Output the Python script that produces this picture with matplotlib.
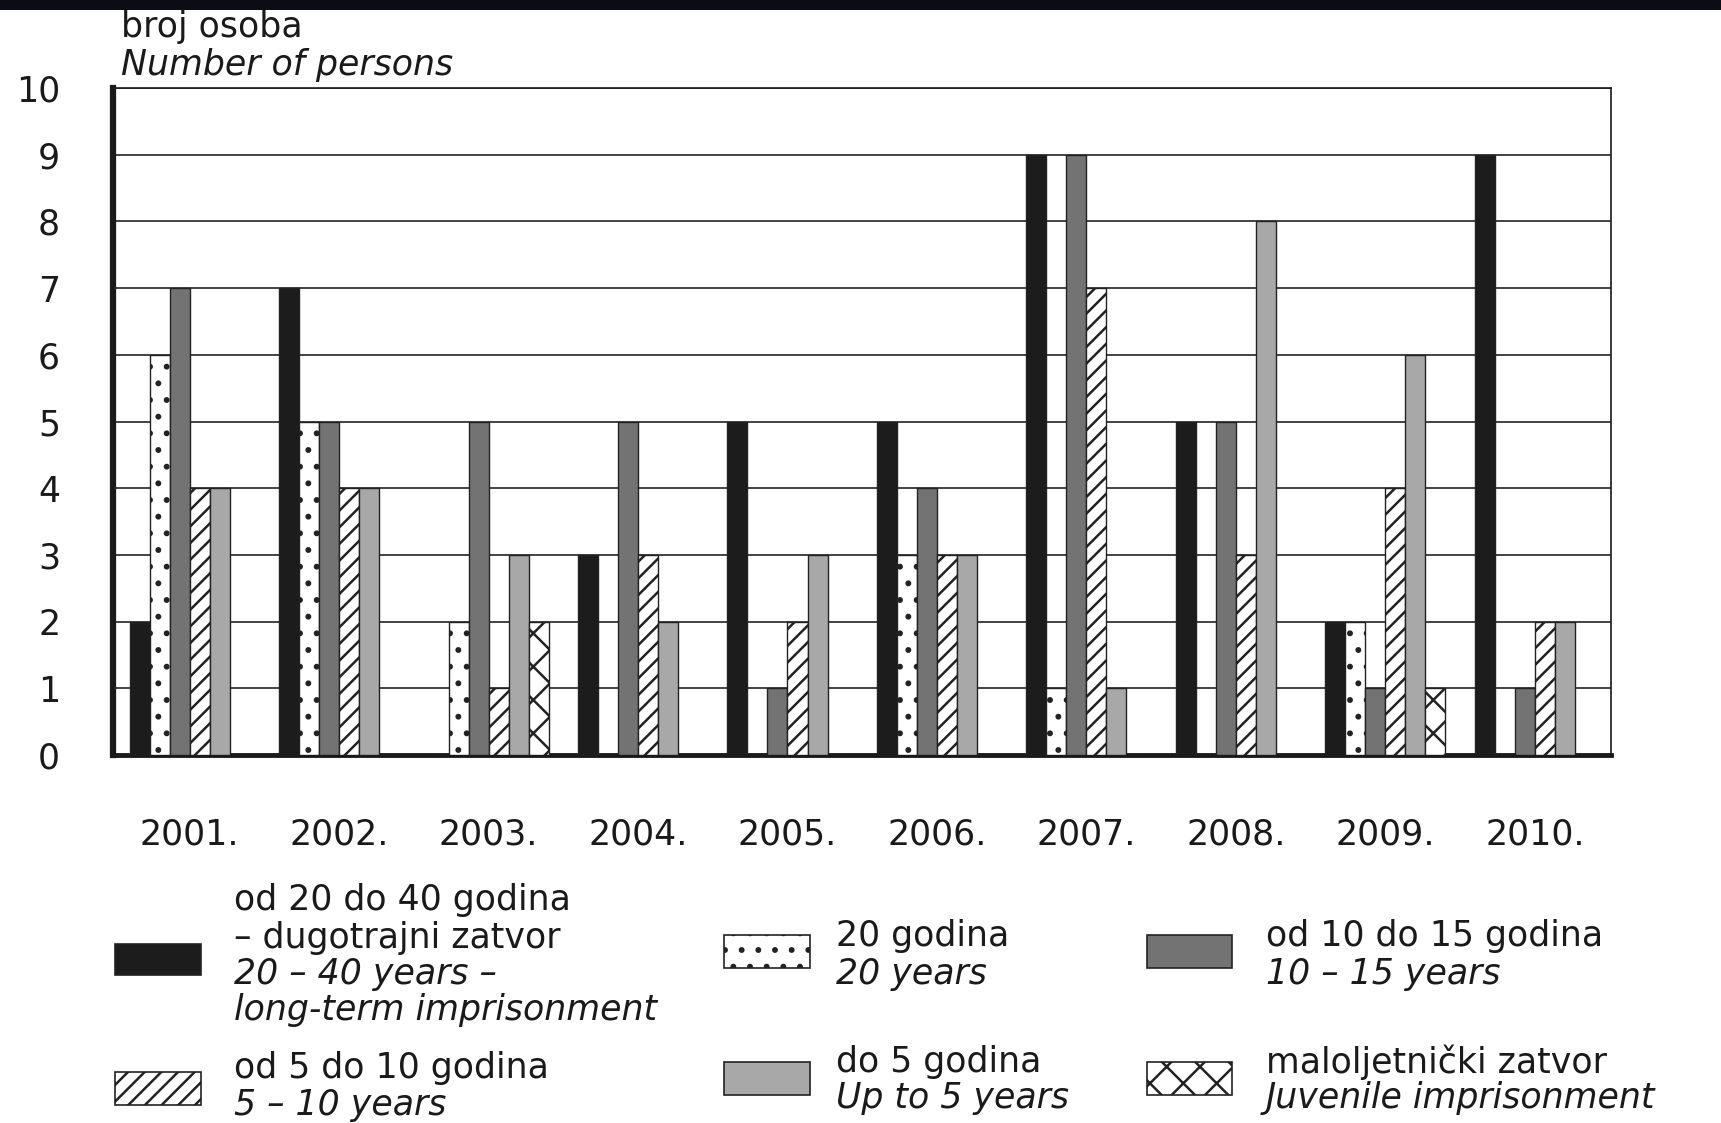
import matplotlib
matplotlib.use('Agg')
import matplotlib.pyplot as plt
from matplotlib.patches import Rectangle

plt.rcParams['font.family'] = ['DejaVu Sans']
plt.rcParams['hatch.linewidth'] = 1.8

# ---- data ----
years = ['2001.', '2002.', '2003.', '2004.', '2005.', '2006.', '2007.', '2008.', '2009.', '2010.']
long_term = [2, 7, 0, 3, 5, 5, 9, 5, 2, 9]      # 20-40 years
years_20 = [6, 5, 2, 0, 0, 3, 1, 0, 2, 0]        # 20 years
years_10_15 = [7, 5, 5, 5, 1, 4, 9, 5, 1, 1]     # 10-15 years
years_5_10 = [4, 4, 1, 3, 2, 3, 7, 3, 4, 2]      # 5-10 years
up_to_5 = [4, 4, 3, 2, 3, 3, 1, 8, 6, 2]         # up to 5 years
juvenile = [0, 0, 2, 0, 0, 0, 0, 0, 1, 0]        # juvenile imprisonment
yticks = list(range(0, 11))

series = [long_term, years_20, years_10_15, years_5_10, up_to_5, juvenile]
styles = [
    dict(facecolor='#1c1c1c', hatch=None),
    dict(facecolor='white', hatch='.'),
    dict(facecolor='#737373', hatch=None),
    dict(facecolor='white', hatch='//'),
    dict(facecolor='#a8a8a8', hatch=None),
    dict(facecolor='white', hatch='x'),
]

FS = 25
TXT = '#1a1a1a'
W, H = 1721, 1123
fig = plt.figure(figsize=(W / 100, H / 100), dpi=100)
fig.patch.set_facecolor('white')

# dark band at top (slide background)
fig.add_artist(Rectangle((0, 1 - 10 / H), 1, 10 / H, transform=fig.transFigure,
                         facecolor='#0c0c16', edgecolor='none'))

ax = fig.add_axes([113 / W, 1 - 755 / H, (1611 - 113) / W, (755 - 88) / H])

bw = 0.134
xs = list(range(len(years)))
for j, (vals, st) in enumerate(zip(series, styles)):
    pos = [x + (j - 2.5) * bw for x in xs]
    ax.bar(pos, vals, width=bw, facecolor=st['facecolor'], hatch=st['hatch'],
           edgecolor='#222222', linewidth=1.0, zorder=3)

ax.set_xlim(-0.513, 9.51)
ax.set_ylim(0, 10)
ax.set_yticks(yticks)
ax.set_yticklabels([str(t) for t in yticks])
ax.set_xticks(xs)
ax.set_xticklabels(years)
ax.yaxis.grid(True, color='#222222', linewidth=1.2)
ax.set_axisbelow(True)
ax.tick_params(axis='y', length=0, pad=38, labelsize=FS, labelcolor=TXT)
ax.tick_params(axis='x', length=0, pad=45, labelsize=FS, labelcolor=TXT)
ax.spines['left'].set_linewidth(4.5)
ax.spines['bottom'].set_linewidth(3.5)
ax.spines['top'].set_linewidth(1.2)
ax.spines['right'].set_linewidth(1.2)
for s in ax.spines.values():
    s.set_color('#1a1a1a')

# axis title
fig.text(121 / W, 1 - 27 / H, 'broj osoba', fontsize=FS, color=TXT, va='center', ha='left')
fig.text(121 / W, 1 - 65 / H, 'Number of persons', fontsize=FS, style='italic',
         color=TXT, va='center', ha='left')

# ---- legend (manual layout) ----
def patch(x0, y0, x1, y1, st):
    fig.add_artist(Rectangle((x0 / W, 1 - y1 / H), (x1 - x0) / W, (y1 - y0) / H,
                             transform=fig.transFigure, facecolor=st['facecolor'],
                             hatch=st['hatch'], edgecolor='#222222', linewidth=1.2))

def lines(x, ys, texts, italics):
    for yy, t, it in zip(ys, texts, italics):
        fig.text(x / W, 1 - yy / H, t, fontsize=FS, style='italic' if it else 'normal',
                 color=TXT, va='center', ha='left')

patch(115, 944, 201, 975, styles[0])
lines(234, [900, 938, 974, 1010],
      ['od 20 do 40 godina', '– dugotrajni zatvor', '20 – 40 years –', 'long-term imprisonment'],
      [False, False, True, True])
patch(724, 935, 810, 968, styles[1])
lines(836, [936, 974], ['20 godina', '20 years'], [False, True])
patch(1147, 935, 1232, 968, styles[2])
lines(1266, [936, 974], ['od 10 do 15 godina', '10 – 15 years'], [False, True])

patch(115, 1072, 201, 1105, styles[3])
lines(234, [1068, 1105], ['od 5 do 10 godina', '5 – 10 years'], [False, True])
patch(724, 1062, 810, 1095, styles[4])
lines(836, [1062, 1098], ['do 5 godina', 'Up to 5 years'], [False, True])
patch(1147, 1062, 1232, 1095, styles[5])
lines(1266, [1062, 1098], ['maloljetnički zatvor', 'Juvenile imprisonment'], [False, True])

fig.savefig('out.png', dpi=100)
